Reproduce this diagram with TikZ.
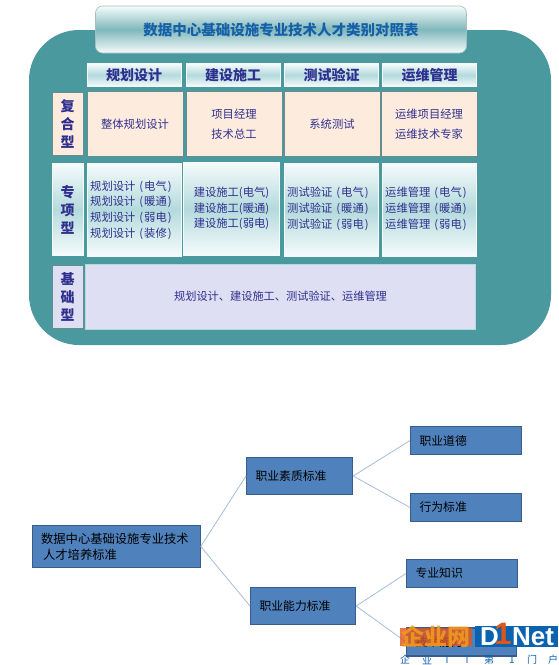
\documentclass[tikz,border=0pt]{standalone}
\usepackage{fontspec}
\newfontfamily\cjk{Noto Sans CJK SC}
\newfontfamily\logofont{Liberation Sans}
\usetikzlibrary{positioning, calc}
\definecolor{c1}{HTML}{4A999E}
\definecolor{c2}{HTML}{2F2F8F}
\definecolor{c3}{HTML}{FDEBDD}
\definecolor{c4}{HTML}{DFDFF3}
\definecolor{c5}{HTML}{B4DADD}
\definecolor{c6}{HTML}{4F81BD}
\definecolor{c7}{HTML}{385D8A}
\definecolor{c8}{HTML}{A3BDDC}
\definecolor{c9}{HTML}{F5FBFB}
\definecolor{titlecolor}{HTML}{1560A8}
\definecolor{logoblue}{HTML}{0B62AE}
\definecolor{logoorange}{HTML}{F59A1C}
\definecolor{logodark}{HTML}{E0561A}
\newcommand{\sptag}[1]{\hspace{4pt}(\hspace{1pt}#1\hspace{1pt})}
\begin{document}
\begin{tikzpicture}[x=1pt, y=-1pt,
    every node/.style={font=\cjk, inner sep=0pt, align=center},
    head/.style={minimum width=94pt, minimum height=23pt, draw=c9, line width=0.6pt,
                 top color=c9, bottom color=c9, middle color=c5,
                 font=\cjk\bfseries\fontsize{14}{16}\selectfont, text=c2},
    side/.style={minimum width=31pt, draw=c1!50!gray, line width=0.6pt,
                 font=\cjk\bfseries\fontsize{14}{18}\selectfont, text=c2},
    peach/.style={minimum width=96pt, minimum height=65pt, fill=c3, draw=c1!50!gray, line width=0.6pt,
                  font=\cjk\fontsize{11.3}{20.5}\selectfont, text=c2},
    spec/.style={minimum width=94pt, minimum height=93pt, draw=c9, line width=0.6pt,
                 top color=c9, bottom color=c9, middle color=c5,
                 font=\cjk\fontsize{11.3}{15.7}\selectfont, text=c2},
    speclist/.style={text=c2, align=left, font=\cjk\fontsize{11.3}{15.7}\selectfont},
    std/.style={draw=c7, line width=1.2pt, fill=c6, text=black, anchor=west, align=left,
                inner xsep=9pt, font=\cjk\fontsize{11.8}{16}\selectfont},
    link/.style={draw=c8, line width=0.8pt},
    logobit/.style={text=logoblue, font=\cjk\fontsize{10}{10}\selectfont},
]
\useasboundingbox (0,0) rectangle (558,665);

% ---------------------------------------------------------------- the panel
\fill[c1, rounded corners=50pt] (29,30) rectangle (551,345);
\node[minimum width=371pt, minimum height=47pt, rounded corners=7pt, draw=c5!70!gray, line width=0.6pt,
      top color=c9, bottom color=c9, middle color=c1!70,
      text=titlecolor, font=\cjk\bfseries\fontsize{14.5}{16}\selectfont]
    (title) at (281,29.5) {数据中心基础设施专业技术人才类别对照表};

% ---------------------------------------------------------------- columns
\foreach \x/\n/\t in {134/a/规划设计, 233/b/建设施工, 331.5/c/测试验证, 429.5/d/运维管理} {
    \node[head] (head\n) at (\x,75) {\t};
}

% ---------------------------------------------------------------- rows
\node[side, minimum height=63pt, fill=c3] (rowa) at (67.5,123.5) {复\\合\\型};
\node[side, minimum height=92pt, top color=c9, bottom color=c9, middle color=c5, draw=c9] (rowb) at (67.5,209.5) {专\\项\\型};
\node[side, minimum height=63pt, fill=c4] (rowc) at (67.5,297) {基\\础\\型};

\node[peach] (peacha) at (135,124) {整体规划设计};
\node[peach] (peachb) at (234,124) {项目经理\\技术总工};
\node[peach] (peachc) at (332,124) {系统测试};
\node[peach] (peachd) at (429,124) {运维项目经理\\运维技术专家};

\node[spec] (speca) at (134,209.5) {};
\node[speclist, anchor=west] (lista) at (90,210)
    {规划设计\sptag{电气}\\规划设计\sptag{暖通}\\规划设计\sptag{弱电}\\规划设计\sptag{装修}};
\node[spec, minimum width=96pt] (specb) at (231.5,208.5)
    {建设施工(电气)\\建设施工(暖通)\\建设施工(弱电)};
\node[spec] (specc) at (331,209.5) {};
\node[speclist, anchor=west] (listc) at (287,209)
    {测试验证\sptag{电气}\\测试验证\sptag{暖通}\\测试验证\sptag{弱电}};
\node[spec] (specd) at (429.5,209.5) {};
\node[speclist, anchor=west] (listd) at (385,209)
    {运维管理\sptag{电气}\\运维管理\sptag{暖通}\\运维管理\sptag{弱电}};

\node[minimum width=390pt, minimum height=65pt, fill=c4, draw=c5, line width=0.6pt,
      text=c2, font=\cjk\fontsize{11.2}{13}\selectfont] (base) at (280.5,296.5)
    {规划设计、建设施工、测试验证、运维管理};

% ---------------------------------------------------------------- the tree
\node[std, minimum height=42pt, text width=150pt, font=\cjk\fontsize{12.3}{16}\selectfont] (root) at (31.5,546.5)
    {数据中心基础设施专业技术\\\hspace*{2pt}人才培养标准};
\node[std, minimum height=37pt, text width=88pt] (quality) at (246,476) {职业素质标准};
\node[std, minimum height=37pt, text width=87pt] (ability) at (250,606) {职业能力标准};
\node[std, minimum height=28pt, text width=93pt] (ethics) at (410,440.5) {职业道德};
\node[std, minimum height=28pt, text width=93pt] (conduct) at (410,507.5) {行为标准};
\node[std, minimum height=28pt, text width=93pt] (knowledge) at (406,573.5) {专业知识};
\node[std, minimum height=28pt, text width=92pt] (skill) at (406,642) {技术能力};

\draw[link] (root.east) -- (quality.west);
\draw[link] (root.east) -- (ability.west);
\draw[link] (quality.east) -- (ethics.west);
\draw[link] (quality.east) -- (conduct.west);
\draw[link] (ability.east) -- (knowledge.west);
\draw[link] (ability.east) -- (skill.west);

% ---------------------------------------------------------------- logo
\fill[logoblue] (475,626) rectangle (558,647);
\fill[logodark, fill opacity=0.8] (400,628) rectangle (472,646);
\node[text=logoorange, text opacity=0.85, font=\cjk\bfseries\fontsize{23}{23}\selectfont] (logoa) at (436,637) {企业网};
\node[anchor=west, text=white, font=\logofont\bfseries\fontsize{26}{26}\selectfont] (logob) at (480,637) {D};
\node[text=logodark, font=\logofont\bfseries\fontsize{31}{31}\selectfont] (logoc) at (503,634) {1};
\node[anchor=west, text=white, font=\logofont\bfseries\fontsize{26}{26}\selectfont] (logod) at (512,637) {Net};
\foreach \x/\n/\t in {405/a/企, 427/b/业, 447/c/I, 467/d/T, 489/e/第, 512/f/1, 532/g/门, 553/h/户} {
    \node[logobit] (bit\n) at (\x,660) {\t};
}
\end{tikzpicture}
\end{document}
